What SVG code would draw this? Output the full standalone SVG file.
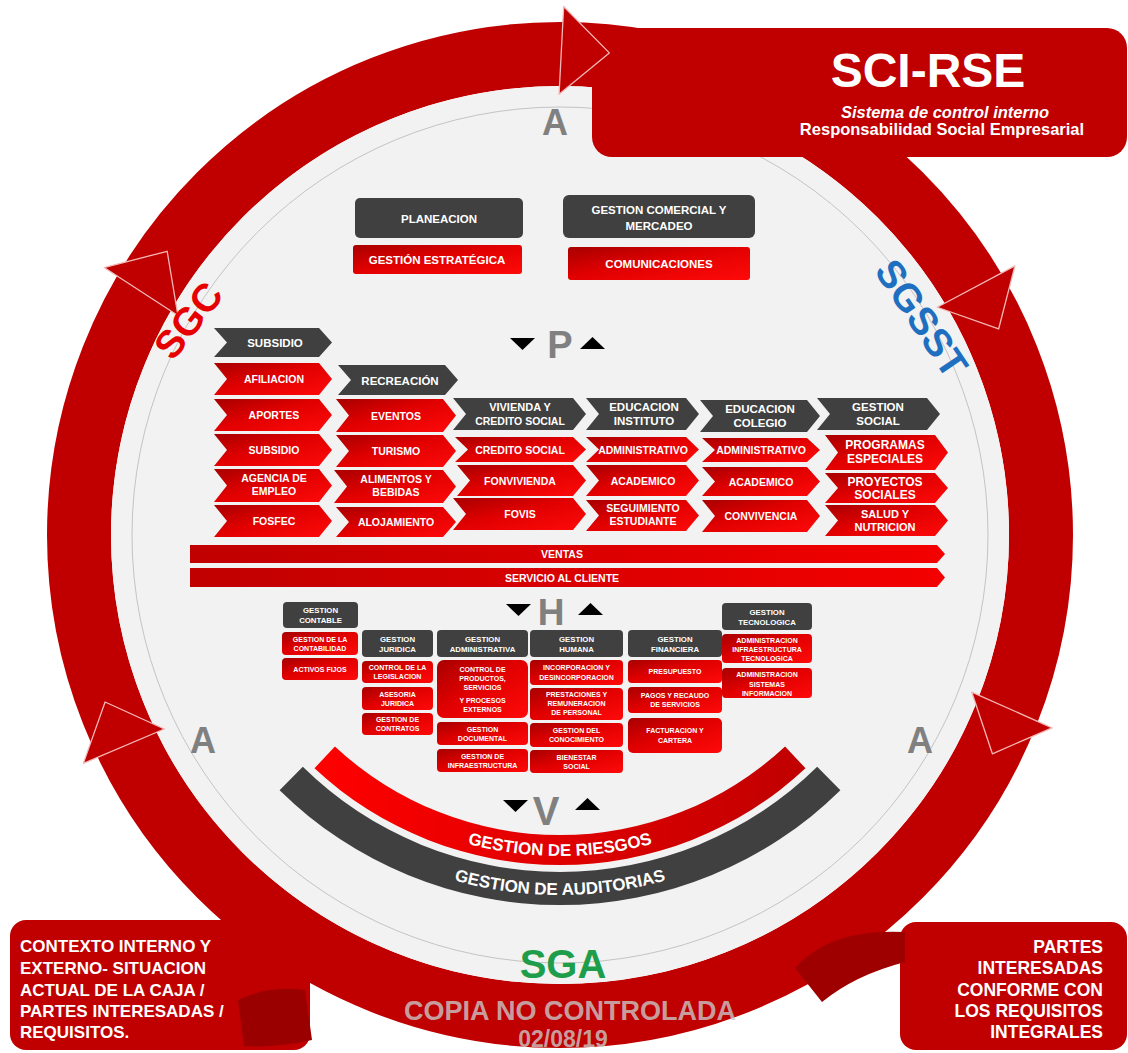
<svg xmlns="http://www.w3.org/2000/svg" width="1128" height="1053" viewBox="0 0 1128 1053">
<defs>
<linearGradient id="gr" x1="0" y1="0" x2="1" y2="1"><stop offset="0" stop-color="#a80000"/><stop offset="0.45" stop-color="#e00000"/><stop offset="1" stop-color="#ff0a0a"/></linearGradient>
<linearGradient id="bar" x1="0" y1="0" x2="1" y2="0"><stop offset="0" stop-color="#c00000"/><stop offset="1" stop-color="#f40000"/></linearGradient>
<linearGradient id="arcr" x1="0" y1="0" x2="1" y2="0"><stop offset="0" stop-color="#ff0000"/><stop offset="1" stop-color="#c00000"/></linearGradient>
<polygon id="ah" points="-24,-528 24,-484 -24,-440"/>
<path id="pr" d="M320.6,761.7 A351,351 0 0 0 799.4,761.7"/>
<path id="pg" d="M281.9,778.4 A390,390 0 0 0 838.1,778.4"/>
</defs>
<style>
text{font-family:"Liberation Sans",Arial,Helvetica,sans-serif;font-weight:bold}
.w{fill:#fff;text-anchor:middle}
.c{font-size:10.5px}
.hd{font-size:11.5px}
.s{font-size:7px}
.sh{font-size:7.8px}
.dk{fill:#404040}
.rd{fill:url(#gr)}
.big{fill:#808080;text-anchor:middle}
.tri{fill:#000}
.ring{fill:#c00000}
</style>
<rect width="1128" height="1053" fill="#fff"/>

<g id="ring">
<circle cx="560" cy="535" r="481" fill="none" stroke="#c00000" stroke-width="64"/>
<circle cx="560" cy="535" r="449" fill="#f2f2f2"/>
<circle cx="560" cy="535" r="428" fill="none" stroke="#c4c4c4" stroke-width="1"/>
</g>

<g id="title">
<rect x="592" y="28" width="535" height="129" rx="20" class="ring"/>
<text x="928" y="87" class="w" font-size="48">SCI-RSE</text>
<text x="945" y="118" class="w" font-size="16.5" font-style="italic">Sistema de control interno</text>
<text x="942" y="135" class="w" font-size="16.5">Responsabilidad Social Empresarial</text>
</g>

<g id="box-contexto">
<rect x="10" y="920" width="300" height="130" rx="16" class="ring"/>
<path d="M238,1000 Q270,985 305,990 L312,1040 Q275,1048 244,1046 Z" fill="#9a0000"/>
<text x="20" y="952" fill="#fff" font-size="17">CONTEXTO INTERNO Y</text>
<text x="20" y="974" fill="#fff" font-size="17">EXTERNO- SITUACION</text>
<text x="20" y="996" fill="#fff" font-size="17">ACTUAL DE LA CAJA /</text>
<text x="20" y="1017" fill="#fff" font-size="17">PARTES INTERESADAS /</text>
<text x="20" y="1038" fill="#fff" font-size="17">REQUISITOS.</text>
</g>

<g id="box-partes">
<rect x="900" y="922" width="227" height="128" rx="16" class="ring"/>
<path d="M795,968 Q830,928 905,932 L905,962 Q855,975 822,1002 Z" fill="#9e0000"/>
<g font-size="17.5" fill="#fff" text-anchor="end">
<text x="1103" y="953">PARTES</text>
<text x="1103" y="974">INTERESADAS</text>
<text x="1103" y="996">CONFORME CON</text>
<text x="1103" y="1017">LOS REQUISITOS</text>
<text x="1103" y="1038">INTEGRALES</text>
</g>
</g>

<g id="ring-arrows" fill="#c00000" stroke="#f3b8b8" stroke-width="1.3" stroke-linejoin="round">
<use href="#ah" transform="rotate(3 560 535) translate(560 535)"/>
<use href="#ah" transform="rotate(62 560 535) translate(560 535)"/>
<use href="#ah" transform="rotate(114 560 535) translate(560 535)"/>
<use href="#ah" transform="rotate(247 560 535) translate(560 535)"/>
<use href="#ah" transform="rotate(303 560 535) translate(560 535)"/>
</g>

<g id="labels">
<text x="555" y="135" class="big" font-size="36">A</text>
<text x="203" y="753" class="big" font-size="36">A</text>
<text x="920" y="753" class="big" font-size="36">A</text>
<text transform="translate(188,320) rotate(-52)" y="14" text-anchor="middle" fill="#e60000" font-size="39">SGC</text>
<text transform="translate(922,318) rotate(56)" y="14" text-anchor="middle" fill="#1f6fc0" font-size="39">SGSST</text>
<text x="563" y="978" text-anchor="middle" fill="#1e9e4a" font-size="40">SGA</text>
<text x="570" y="1020" text-anchor="middle" fill="#c8c8c8" fill-opacity="0.8" font-size="27">COPIA NO CONTROLADA</text>
<text x="563" y="1047" text-anchor="middle" fill="#c8c8c8" fill-opacity="0.8" font-size="23">02/08/19</text>
</g>

<g id="top-boxes">
<g id="planeacion"><rect x="355" y="198" width="168" height="40" rx="5" class="dk"/><text x="439" y="223" class="w" font-size="11.5">PLANEACION</text></g>
<g id="estrategica"><rect x="353" y="245" width="169" height="29" rx="3" class="rd"/><text x="437" y="264" class="w" font-size="11.5">GESTIÓN ESTRATÉGICA</text></g>
<g id="comercial"><rect x="563" y="195" width="192" height="43" rx="6" class="dk"/><text x="659" y="214" class="w" font-size="11.5">GESTION COMERCIAL Y</text><text x="659" y="230" class="w" font-size="11.5">MERCADEO</text></g>
<g id="comunicaciones"><rect x="568" y="247" width="182" height="33" rx="3" class="rd"/><text x="659" y="268" class="w" font-size="11.5">COMUNICACIONES</text></g>
</g>

<g id="pdca-marks">
<polygon class="tri" points="510,338 535,338 522.5,350"/>
<text x="560" y="358" class="big" font-size="38">P</text>
<polygon class="tri" points="580,349 605,349 592.5,337"/>
<polygon class="tri" points="506,604 531,604 518.5,616"/>
<text x="551" y="625" class="big" font-size="37">H</text>
<polygon class="tri" points="578,615 603,615 590.5,603"/>
<polygon class="tri" points="503,800 528,800 515.5,812"/>
<text x="546" y="825" class="big" font-size="40">V</text>
<polygon class="tri" points="575,810 600,810 587.5,798"/>
</g>

<g id="col-subsidio">
<polygon class="dk" points="214,328 319,328 332,342.5 319,357 214,357 227,342.5"/><text x="275" y="347" class="w hd">SUBSIDIO</text>
<polygon class="rd" points="214,363 319,363 332,379 319,395 214,395 227,379"/><text x="274" y="383" class="w c">AFILIACION</text>
<polygon class="rd" points="214,399 319,399 332,415 319,431 214,431 227,415"/><text x="274" y="419" class="w c">APORTES</text>
<polygon class="rd" points="214,434 319,434 332,450 319,466 214,466 227,450"/><text x="274" y="454" class="w c">SUBSIDIO</text>
<polygon class="rd" points="214,469 319,469 332,485.5 319,502 214,502 227,485.5"/><text x="274" y="482" class="w c">AGENCIA DE</text><text x="274" y="495" class="w c">EMPLEO</text>
<polygon class="rd" points="214,505 319,505 332,521 319,537 214,537 227,521"/><text x="274" y="525" class="w c">FOSFEC</text>
</g>

<g id="col-recreacion">
<polygon class="dk" points="338,365 445,365 458,380 445,395 338,395 351,380"/><text x="400" y="384.5" class="w hd">RECREACIÓN</text>
<polygon class="rd" points="336,399 443,399 456,415.5 443,432 336,432 349,415.5"/><text x="396" y="419.5" class="w c">EVENTOS</text>
<polygon class="rd" points="336,435 443,435 456,451 443,467 336,467 349,451"/><text x="396" y="455" class="w c">TURISMO</text>
<polygon class="rd" points="334,470 443,470 456,486.5 443,503 334,503 347,486.5"/><text x="396" y="483" class="w c">ALIMENTOS Y</text><text x="396" y="496" class="w c">BEBIDAS</text>
<polygon class="rd" points="336,507 443,507 456,522 443,537 336,537 349,522"/><text x="396" y="526" class="w c">ALOJAMIENTO</text>
</g>

<g id="col-vivienda">
<polygon class="dk" points="453,398 573,398 586,414 573,430 453,430 466,414"/><text x="520" y="411" class="w" font-size="11">VIVIENDA Y</text><text x="520" y="425" class="w" font-size="10.5">CREDITO SOCIAL</text>
<polygon class="rd" points="455,437 573,437 586,449.5 573,462 455,462 468,449.5"/><text x="520" y="453.5" class="w c">CREDITO SOCIAL</text>
<polygon class="rd" points="457,465 573,465 586,480.5 573,496 457,496 470,480.5"/><text x="520" y="484.5" class="w c">FONVIVIENDA</text>
<polygon class="rd" points="453,498 573,498 586,514 573,530 453,530 466,514"/><text x="520" y="518" class="w c">FOVIS</text>
</g>

<g id="col-instituto">
<polygon class="dk" points="586,398 686,398 699,414 686,430 586,430 599,414"/><text x="644" y="411" class="w hd">EDUCACION</text><text x="644" y="425" class="w hd">INSTITUTO</text>
<polygon class="rd" points="586,437 686,437 699,449.5 686,462 586,462 599,449.5"/><text x="643" y="453.5" class="w c">ADMINISTRATIVO</text>
<polygon class="rd" points="586,465 686,465 699,480.5 686,496 586,496 599,480.5"/><text x="643" y="484.5" class="w c">ACADEMICO</text>
<polygon class="rd" points="586,500 686,500 699,515.5 686,531 586,531 599,515.5"/><text x="643" y="512" class="w c">SEGUIMIENTO</text><text x="643" y="525" class="w c">ESTUDIANTE</text>
</g>

<g id="col-colegio">
<polygon class="dk" points="700,400 807,400 820,416 807,432 700,432 713,416"/><text x="760" y="413" class="w hd">EDUCACION</text><text x="760" y="427" class="w hd">COLEGIO</text>
<polygon class="rd" points="702,438 807,438 820,450 807,462 702,462 715,450"/><text x="761" y="454" class="w c">ADMINISTRATIVO</text>
<polygon class="rd" points="702,467 807,467 820,481.5 807,496 702,496 715,481.5"/><text x="761" y="485.5" class="w c">ACADEMICO</text>
<polygon class="rd" points="702,500 807,500 820,516 807,532 702,532 715,516"/><text x="761" y="520" class="w c">CONVIVENCIA</text>
</g>

<g id="col-social">
<polygon class="dk" points="817,398 927,398 940,414 927,430 817,430 830,414"/><text x="878" y="411" class="w hd">GESTION</text><text x="878" y="425" class="w hd">SOCIAL</text>
<polygon class="rd" points="825,435 935,435 948,452.5 935,470 825,470 838,452.5"/><text x="885" y="449" class="w" font-size="12">PROGRAMAS</text><text x="885" y="463" class="w" font-size="12">ESPECIALES</text>
<polygon class="rd" points="825,473 935,473 948,488 935,503 825,503 838,488"/><text x="885" y="486" class="w" font-size="12">PROYECTOS</text><text x="885" y="499" class="w" font-size="12">SOCIALES</text>
<polygon class="rd" points="825,505 935,505 948,520.5 935,536 825,536 838,520.5"/><text x="885" y="517.5" class="w" font-size="11">SALUD Y</text><text x="885" y="530.5" class="w" font-size="11">NUTRICION</text>
</g>

<g id="bars">
<g id="ventas"><polygon fill="url(#bar)" points="190,545 937,545 945,554 937,563 190,563"/><text x="562" y="558" class="w c">VENTAS</text></g>
<g id="servicio"><polygon fill="url(#bar)" points="190,568 937,568 945,577.5 937,587 190,587"/><text x="562" y="581.5" class="w c">SERVICIO AL CLIENTE</text></g>
</g>

<g id="h-contable">
<rect x="283" y="602" width="75" height="26" rx="4" class="dk"/><text x="320.5" y="613" class="w sh">GESTION</text><text x="320.5" y="623" class="w sh">CONTABLE</text>
<rect x="282" y="632" width="76" height="23" rx="4" class="rd"/><text x="320" y="642" class="w s">GESTION DE LA</text><text x="320" y="651" class="w s">CONTABILIDAD</text>
<rect x="282" y="658" width="76" height="22" rx="4" class="rd"/><text x="320" y="672" class="w s">ACTIVOS FIJOS</text>
</g>
<g id="h-juridica">
<rect x="362" y="630" width="71" height="27" rx="4" class="dk"/><text x="397.5" y="642" class="w sh">GESTION</text><text x="397.5" y="652" class="w sh">JURIDICA</text>
<rect x="362" y="661" width="71" height="22" rx="4" class="rd"/><text x="397.5" y="670" class="w s">CONTROL DE LA</text><text x="397.5" y="679" class="w s">LEGISLACION</text>
<rect x="362" y="687" width="71" height="23" rx="4" class="rd"/><text x="397.5" y="697" class="w s">ASESORIA</text><text x="397.5" y="706" class="w s">JURIDICA</text>
<rect x="362" y="713" width="71" height="22" rx="4" class="rd"/><text x="397.5" y="722" class="w s">GESTION DE</text><text x="397.5" y="731" class="w s">CONTRATOS</text>
</g>
<g id="h-administrativa">
<rect x="437" y="630" width="91" height="27" rx="4" class="dk"/><text x="482.5" y="642" class="w sh">GESTION</text><text x="482.5" y="652" class="w sh">ADMINISTRATIVA</text>
<rect x="437" y="660" width="91" height="58" rx="7" class="rd"/><text x="482.5" y="672" class="w s">CONTROL DE</text><text x="482.5" y="681" class="w s">PRODUCTOS,</text><text x="482.5" y="690" class="w s">SERVICIOS</text><text x="482.5" y="703" class="w s">Y PROCESOS</text><text x="482.5" y="712" class="w s">EXTERNOS</text>
<rect x="437" y="722" width="91" height="23" rx="4" class="rd"/><text x="482.5" y="732" class="w s">GESTION</text><text x="482.5" y="741" class="w s">DOCUMENTAL</text>
<rect x="437" y="749" width="91" height="23" rx="4" class="rd"/><text x="482.5" y="759" class="w s">GESTION DE</text><text x="482.5" y="768" class="w s">INFRAESTRUCTURA</text>
</g>
<g id="h-humana">
<rect x="530" y="630" width="93" height="27" rx="4" class="dk"/><text x="576.5" y="642" class="w sh">GESTION</text><text x="576.5" y="652" class="w sh">HUMANA</text>
<rect x="530" y="660" width="93" height="25" rx="4" class="rd"/><text x="576.5" y="670" class="w s">INCORPORACION Y</text><text x="576.5" y="680" class="w s">DESINCORPORACION</text>
<rect x="530" y="688" width="93" height="32" rx="4" class="rd"/><text x="576.5" y="697" class="w s">PRESTACIONES Y</text><text x="576.5" y="706" class="w s">REMUNERACION</text><text x="576.5" y="715" class="w s">DE PERSONAL</text>
<rect x="530" y="723" width="93" height="24" rx="4" class="rd"/><text x="576.5" y="733" class="w s">GESTION DEL</text><text x="576.5" y="742" class="w s">CONOCIMIENTO</text>
<rect x="530" y="750" width="93" height="23" rx="4" class="rd"/><text x="576.5" y="760" class="w s">BIENESTAR</text><text x="576.5" y="769" class="w s">SOCIAL</text>
</g>
<g id="h-financiera">
<rect x="628" y="630" width="94" height="27" rx="4" class="dk"/><text x="675" y="642" class="w sh">GESTION</text><text x="675" y="652" class="w sh">FINANCIERA</text>
<rect x="628" y="660" width="94" height="23" rx="4" class="rd"/><text x="675" y="674" class="w s">PRESUPUESTO</text>
<rect x="628" y="687" width="94" height="26" rx="4" class="rd"/><text x="675" y="698" class="w s">PAGOS Y RECAUDO</text><text x="675" y="707" class="w s">DE SERVICIOS</text>
<rect x="628" y="718" width="94" height="35" rx="5" class="rd"/><text x="675" y="733" class="w s">FACTURACION Y</text><text x="675" y="743" class="w s">CARTERA</text>
</g>
<g id="h-tecnologica">
<rect x="722" y="603" width="90" height="27" rx="4" class="dk"/><text x="767" y="615" class="w sh">GESTION</text><text x="767" y="625" class="w sh">TECNOLOGICA</text>
<rect x="722" y="634" width="90" height="29" rx="4" class="rd"/><text x="767" y="643" class="w s">ADMINISTRACION</text><text x="767" y="652" class="w s">INFRAESTRUCTURA</text><text x="767" y="661" class="w s">TECNOLOGICA</text>
<rect x="722" y="668" width="90" height="30" rx="4" class="rd"/><text x="767" y="677" class="w s">ADMINISTRACION</text><text x="767" y="687" class="w s">SISTEMAS</text><text x="767" y="696" class="w s">INFORMACION</text>
</g>

<g id="arc-riesgos">
<path d="M314.5,768.3 A360,360 0 0 0 805.5,768.3 L785.1,746.4 A330,330 0 0 1 334.9,746.4 Z" fill="url(#arcr)"/>
<text fill="#fff" font-size="17" font-weight="normal"><textPath href="#pr" startOffset="50%" text-anchor="middle">GESTION DE RIESGOS</textPath></text>
</g>
<g id="arc-auditorias">
<path d="M279.6,790.3 A400,400 0 0 0 840.4,790.3 L817.2,766.8 A367,367 0 0 1 302.8,766.8 Z" fill="#404040"/>
<text fill="#fff" font-size="17" font-weight="normal"><textPath href="#pg" startOffset="50%" text-anchor="middle">GESTION DE AUDITORIAS</textPath></text>
</g>
</svg>
